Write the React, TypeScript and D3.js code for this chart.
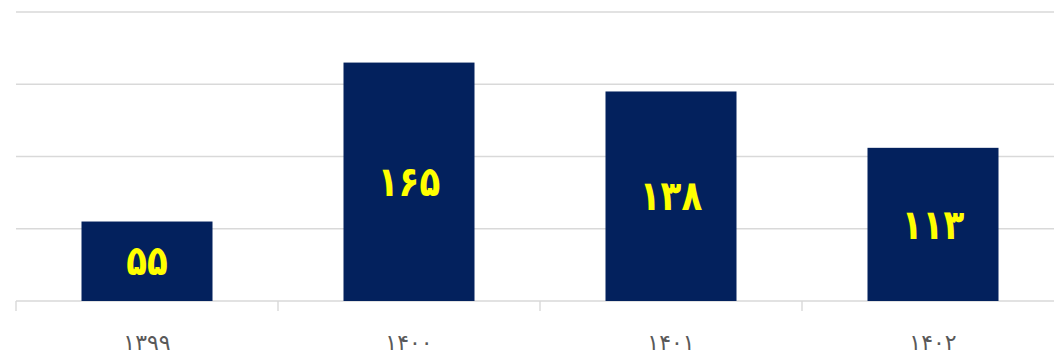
import React from "react";
import * as d3 from "d3";

const categories = ["۱۳۹۹", "۱۴۰۰", "۱۴۰۱", "۱۴۰۲"];
const values = [55, 165, 145, 106];
const valueLabels = ["۵۵", "۱۶۵", "۱۳۸", "۱۱۳"];
const yTicks = [0, 50, 100, 150, 200];

const W = 1054;
const H = 354;

export default function App() {
  const x = d3
    .scaleBand<string>()
    .domain(categories)
    .range([16, 1064])
    .paddingInner(0.5)
    .paddingOuter(0.25);
  const y = d3.scaleLinear().domain([0, 200]).range([301, 12]);
  const step = x.step();
  const boundaries = d3.range(categories.length + 1).map((i) => 16 + i * step);

  return (
    <svg
      width={W}
      height={H}
      style={{ position: "absolute", left: 0, top: 0, background: "#fff" }}
      fontFamily="'DejaVu Sans', sans-serif"
    >
      {yTicks.map((t) => (
        <line key={t} x1={16} x2={W} y1={y(t)} y2={y(t)} stroke="#D9D9D9" strokeWidth={1.4} />
      ))}
      {boundaries.map((b, i) => (
        <line key={i} x1={b} x2={b} y1={y(0)} y2={y(0) + 10} stroke="#D9D9D9" strokeWidth={1.4} />
      ))}
      {categories.map((c, i) => {
        const cx = (x(c) as number) + x.bandwidth() / 2;
        const cy = (y(values[i]) + y(0)) / 2;
        return (
          <g key={c}>
            <rect
              x={x(c)}
              y={y(values[i])}
              width={x.bandwidth()}
              height={y(0) - y(values[i])}
              fill="#03215D"
            />
            <g transform={`translate(${cx},${cy}) scale(0.92,1.12)`}>
              <text
                x={0}
                y={0}
                textAnchor="middle"
                dominantBaseline="central"
                fill="#FFFF00"
                fontWeight="bold"
                fontSize={37}
              >
                {valueLabels[i]}
              </text>
            </g>
            <text
              x={cx}
              y={342}
              textAnchor="middle"
              dominantBaseline="central"
              fill="#595959"
              fontSize={22}
            >
              {c}
            </text>
          </g>
        );
      })}
    </svg>
  );
}
